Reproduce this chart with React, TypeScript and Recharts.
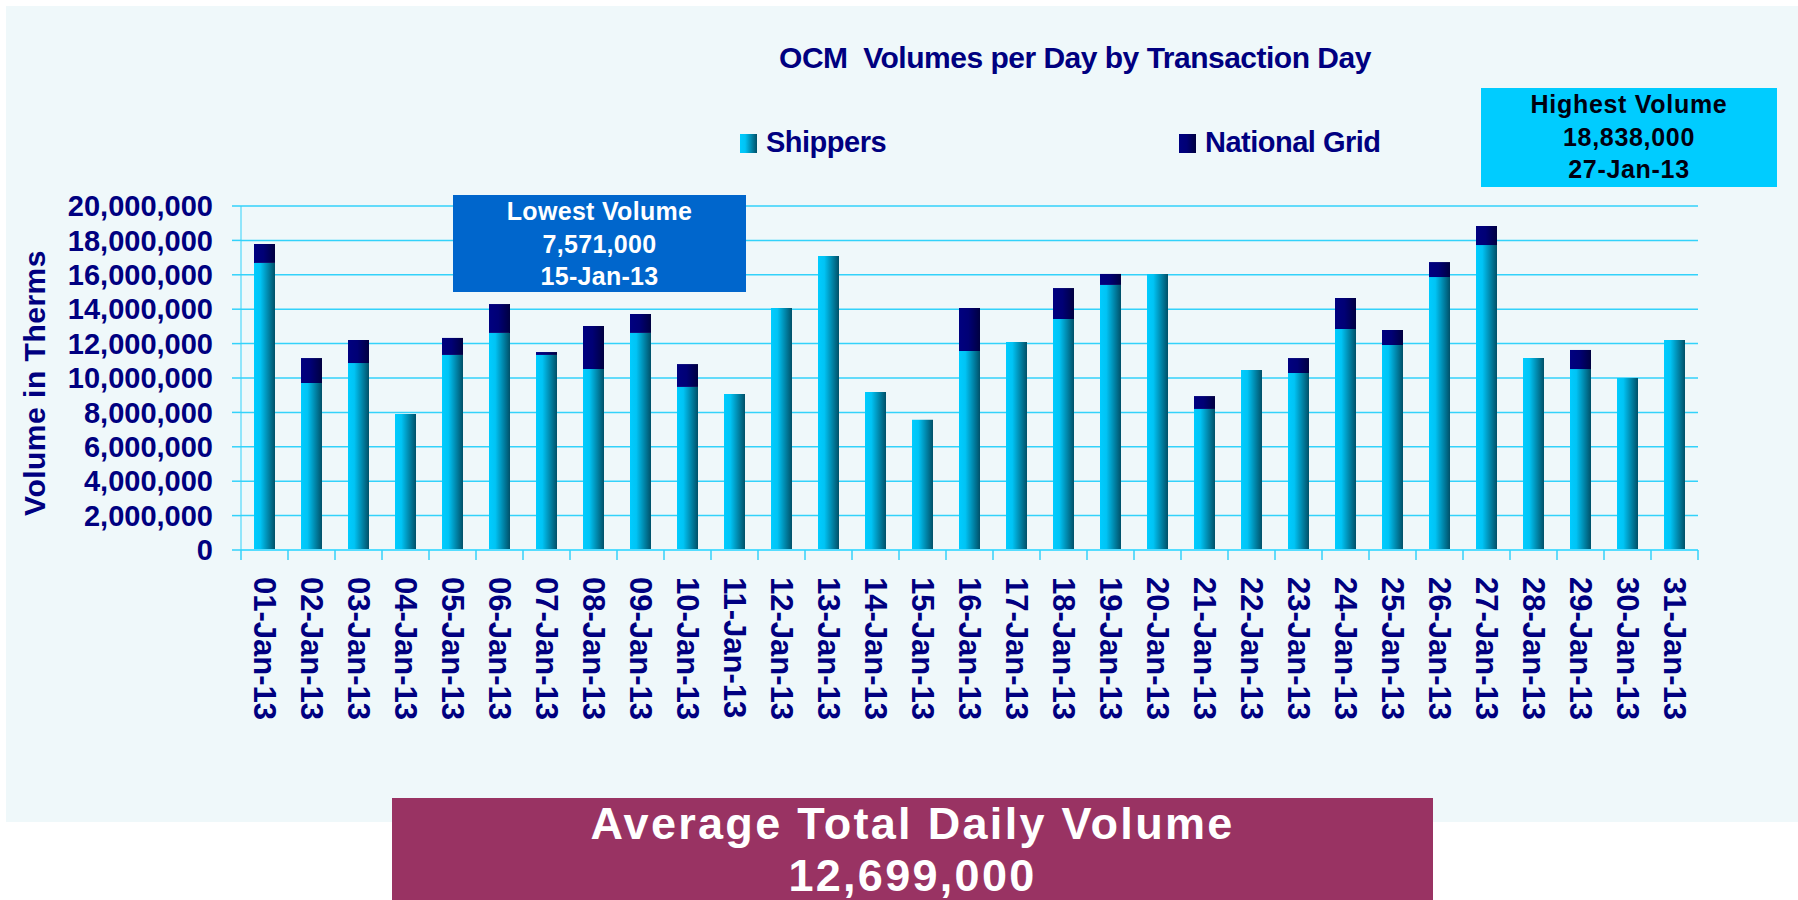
import { BarChart, Bar, XAxis, YAxis, CartesianGrid, Legend } from "recharts";

const days = [
  "01-Jan-13", "02-Jan-13", "03-Jan-13", "04-Jan-13", "05-Jan-13", "06-Jan-13", "07-Jan-13",
  "08-Jan-13", "09-Jan-13", "10-Jan-13", "11-Jan-13", "12-Jan-13", "13-Jan-13", "14-Jan-13",
  "15-Jan-13", "16-Jan-13", "17-Jan-13", "18-Jan-13", "19-Jan-13", "20-Jan-13", "21-Jan-13",
  "22-Jan-13", "23-Jan-13", "24-Jan-13", "25-Jan-13", "26-Jan-13", "27-Jan-13", "28-Jan-13",
  "29-Jan-13", "30-Jan-13", "31-Jan-13",
];

// therms
const shippers = [
  16690000, 9710000, 10870000, 7910000, 11340000, 12620000, 11340000, 10520000, 12620000,
  9480000, 9070000, 14070000, 17090000, 9190000, 7571000, 11570000, 12090000, 13430000,
  15410000, 16050000, 8200000, 10470000, 10290000, 12850000, 11920000, 15870000, 17730000,
  11160000, 10520000, 10000000, 12210000,
];

const nationalGrid = [
  1100000, 1450000, 1340000, 0, 990000, 1680000, 170000, 2500000, 1100000, 1330000, 0, 0, 0,
  0, 0, 2500000, 0, 1800000, 640000, 0, 750000, 0, 870000, 1800000, 870000, 870000, 1108000,
  0, 1110000, 0, 0,
];

const yTicks = [0, 2000000, 4000000, 6000000, 8000000, 10000000, 12000000, 14000000, 16000000, 18000000, 20000000];

const data = days.map((day, i) => ({ day, shippers: shippers[i], nationalGrid: nationalGrid[i] }));

const NAVY = "#000080";
const FONT = "'Liberation Sans', Arial, sans-serif";
const GRID = "#33D2FA";

const fmt = (v: number) => v.toLocaleString("en-US");

const DayTick = (props: any) => {
  const { x, y, payload, index } = props;
  const off = payload?.offset ?? 23.5;
  return (
    <g>
      <line x1={x - off} x2={x - off} y1={y} y2={y + 10} stroke={GRID} strokeWidth={1.5} />
      {index === days.length - 1 && (
        <line x1={x + off} x2={x + off} y1={y} y2={y + 10} stroke={GRID} strokeWidth={1.5} />
      )}
      <text
        x={0}
        y={0}
        transform={`translate(${x},${y + 27}) rotate(90)`}
        fill={NAVY}
        fontSize={31}
        fontWeight="bold"
        fontFamily={FONT}
        textAnchor="start"
        dominantBaseline="central"
      >
        {payload.value}
      </text>
    </g>
  );
};

const legendStyle: Record<string, { left: number; bg: string }> = {
  Shippers: { left: 0, bg: "linear-gradient(to right, #00CCFF 0%, #00C4F5 30%, #005068 100%)" },
  "National Grid": { left: 439, bg: "linear-gradient(to right, #000080 0%, #000075 45%, #000040 100%)" },
};

const LegendContent = (props: any) => (
  <div style={{ position: "relative", width: 700, height: 32 }}>
    {(props.payload || []).map((p: any) => {
      const s = legendStyle[p.value] || { left: 0, bg: p.color };
      return (
        <div key={p.value} style={{ position: "absolute", left: s.left, top: 0 }}>
          <div style={{ position: "absolute", left: 0, top: 6, width: 17, height: 19, background: s.bg }} />
          <div
            style={{
              position: "absolute",
              left: 26,
              top: 0,
              whiteSpace: "nowrap",
              fontFamily: FONT,
              fontWeight: "bold",
              fontSize: 29,
              lineHeight: 1,
              letterSpacing: -0.5,
              color: NAVY,
            }}
          >
            {p.value}
          </div>
        </div>
      );
    })}
  </div>
);

const boxText = {
  fontFamily: FONT,
  fontWeight: "bold" as const,
  textAlign: "center" as const,
  whiteSpace: "nowrap" as const,
};

export default function App() {
  return (
    <div style={{ position: "absolute", left: 0, top: 0, width: 1798, height: 900, background: "#fff", overflow: "hidden" }}>
      <div style={{ position: "absolute", left: 6, top: 6, width: 1792, height: 816, background: "#EFF8FA" }} />

      <div
        style={{
          position: "absolute",
          left: 675,
          top: 43,
          width: 800,
          textAlign: "center",
          fontFamily: FONT,
          fontWeight: "bold",
          fontSize: 30,
          lineHeight: 1,
          letterSpacing: -0.5,
          color: NAVY,
          whiteSpace: "pre",
        }}
      >
        {"OCM  Volumes per Day by Transaction Day"}
      </div>

      <div style={{ position: "absolute", left: 0, top: 0 }}>
        <BarChart
          width={1798}
          height={900}
          data={data}
          margin={{ top: 206, right: 100, bottom: 150, left: 0 }}
          barSize={21}
        >
          <defs>
            <linearGradient id="gShip" x1="0" y1="0" x2="1" y2="0">
              <stop offset="0%" stopColor="#00CCFF" />
              <stop offset="30%" stopColor="#00C4F5" />
              <stop offset="100%" stopColor="#005068" />
            </linearGradient>
            <linearGradient id="gNg" x1="0" y1="0" x2="1" y2="0">
              <stop offset="0%" stopColor="#000080" />
              <stop offset="45%" stopColor="#000075" />
              <stop offset="100%" stopColor="#000040" />
            </linearGradient>
          </defs>
          <CartesianGrid vertical={false} stroke={GRID} strokeWidth={1.5} />
          <XAxis
            dataKey="day"
            interval={0}
            height={200}
            tickLine={false}
            tickSize={0}
            tickMargin={0}
            axisLine={{ stroke: "#55DDFF", strokeWidth: 2 }}
            tick={<DayTick />}
          />
          <YAxis
            width={241}
            domain={[0, 20000000]}
            ticks={yTicks}
            interval={0}
            tickFormatter={fmt}
            tickSize={9}
            tickMargin={19}
            axisLine={{ stroke: GRID, strokeWidth: 1 }}
            tickLine={{ stroke: GRID, strokeWidth: 1.5 }}
            tick={{ fill: NAVY, fontSize: 29, fontWeight: "bold", fontFamily: FONT }}
            label={{
              content: () => (
                <text
                  x={0}
                  y={0}
                  transform="translate(45,383) rotate(-90)"
                  textAnchor="middle"
                  fill={NAVY}
                  fontSize={30}
                  fontWeight="bold"
                  fontFamily={FONT}
                  letterSpacing={0.5}
                >
                  Volume in Therms
                </text>
              ),
            }}
          />
          <Legend
            verticalAlign="middle"
            layout="horizontal"
            content={<LegendContent />}
            wrapperStyle={{ position: "absolute", left: 740, top: 128, width: 700 }}
          />
          <Bar dataKey="shippers" name="Shippers" stackId="a" fill="url(#gShip)" isAnimationActive={false} />
          <Bar dataKey="nationalGrid" name="National Grid" stackId="a" fill="url(#gNg)" isAnimationActive={false} />
        </BarChart>
      </div>

      <div
        style={{
          ...boxText,
          position: "absolute",
          left: 453,
          top: 195,
          width: 293,
          height: 97,
          background: "#0066CC",
          color: "#fff",
          fontSize: 25,
          lineHeight: "32.5px",
          letterSpacing: 0.3,
        }}
      >
        <div>Lowest Volume</div>
        <div>7,571,000</div>
        <div>15-Jan-13</div>
      </div>

      <div
        style={{
          ...boxText,
          position: "absolute",
          left: 1481,
          top: 88,
          width: 296,
          height: 99,
          background: "#00CCFF",
          color: "#000010",
          fontSize: 25,
          lineHeight: "32.5px",
          letterSpacing: 0.7,
        }}
      >
        <div>Highest Volume</div>
        <div>18,838,000</div>
        <div>27-Jan-13</div>
      </div>

      <div
        style={{
          ...boxText,
          position: "absolute",
          left: 392,
          top: 798,
          width: 1041,
          height: 102,
          background: "#993363",
          color: "#fff",
          fontSize: 45,
          lineHeight: "52px",
          letterSpacing: 2.3,
        }}
      >
        <div>Average Total Daily Volume</div>
        <div>12,699,000</div>
      </div>
    </div>
  );
}
